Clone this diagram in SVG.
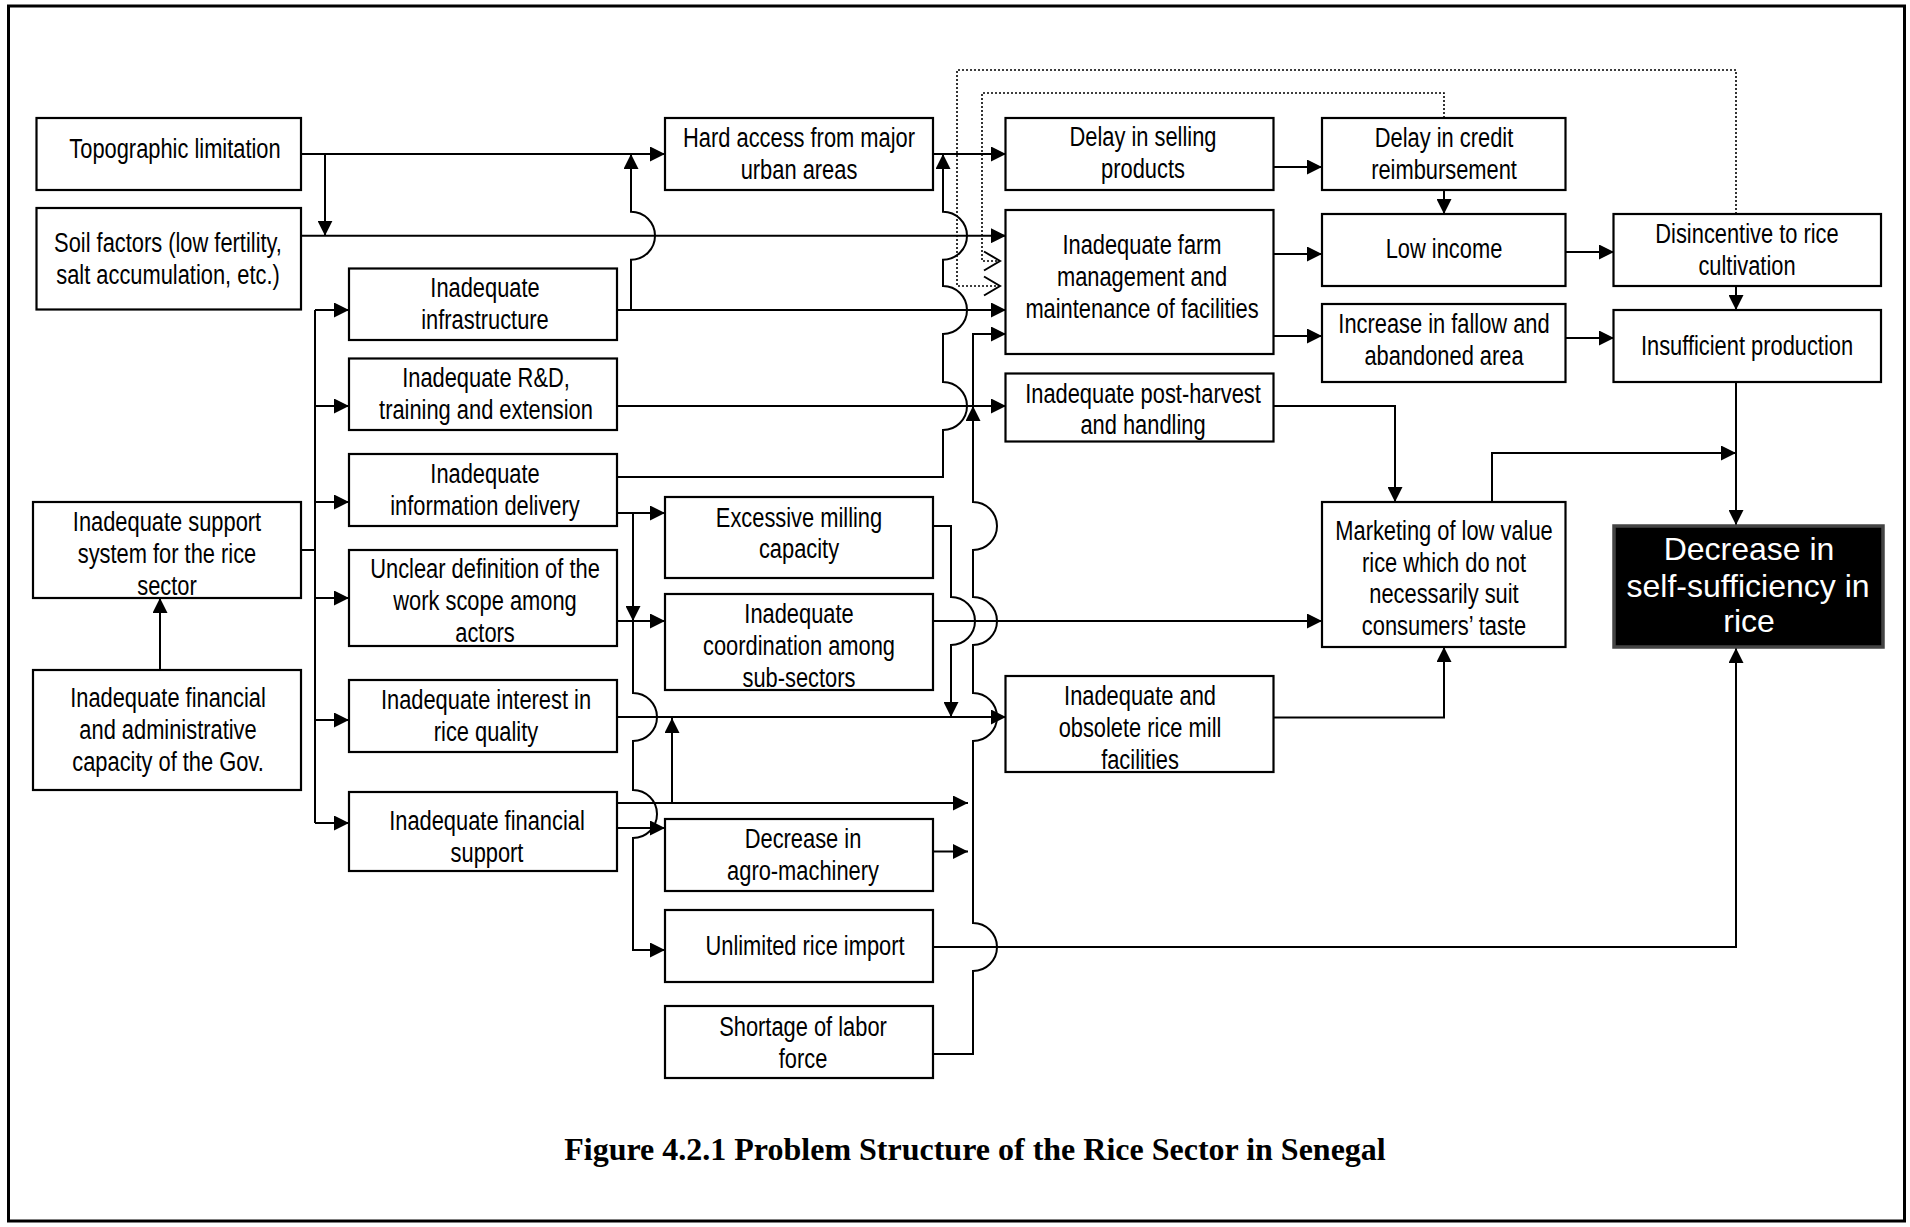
<svg xmlns="http://www.w3.org/2000/svg" width="1910" height="1227" viewBox="0 0 1910 1227">
<style>
.box{fill:#fff;stroke:#000;stroke-width:2.2}
.blk{fill:#000;stroke:#444;stroke-width:3.5}
.t{font-family:"Liberation Sans",Arial,sans-serif;font-size:27px;text-anchor:middle;fill:#000}
.w{font-family:"Liberation Sans",Arial,sans-serif;font-size:32px;text-anchor:middle;fill:#fff}
.cap{font-family:"Liberation Serif","Times New Roman",serif;font-size:32px;font-weight:bold;text-anchor:middle;fill:#000}
.c{fill:none;stroke:#000;stroke-width:2}
.a{marker-end:url(#ah)}
.d{fill:none;stroke:#000;stroke-width:1.6;stroke-dasharray:2 2;marker-end:url(#chev)}
</style>
<defs>
<marker id="ah" markerWidth="15" markerHeight="15" refX="15" refY="7.5" orient="auto" markerUnits="userSpaceOnUse"><path d="M0,0 L15,7.5 L0,15 z" fill="#000"/></marker>
<marker id="chev" markerWidth="20" markerHeight="22" refX="18" refY="11" orient="auto" markerUnits="userSpaceOnUse"><path d="M2,1.5 L18,11 L2,20.5" fill="none" stroke="#000" stroke-width="2"/></marker>
</defs>
<rect x="8.5" y="6" width="1896" height="1215" fill="#fff" stroke="#000" stroke-width="3"/>

<g id="connectors">
<path class="c a" d="M301,154 L665,154"/>
<path class="c a" d="M325,154 L325,235.7"/>
<path class="c a" d="M301,235.7 L1006,235.7"/>
<path class="c a" d="M617,310 L1006,310"/>
<path class="c a" d="M631,310 L631,259.7 A24,24 0 0 0 631,211.7 L631,154"/>
<path class="c a" d="M933,154 L1006,154"/>
<path class="c a" d="M617,406 L1006,406"/>
<path class="c a" d="M617,477 L943,477 L943,430 A24,24 0 0 0 943,382 L943,334 A24,24 0 0 0 943,286 L943,259.7 A24,24 0 0 0 943,211.7 L943,154"/>
<path class="c a" d="M933,1054 L973,1054 L973,971 A24,24 0 0 0 973,923 L973,741 A24,24 0 0 0 973,693 L973,645 A24,24 0 0 0 973,597 L973,550 A24,24 0 0 0 973,502 L973,406"/>
<path class="c a" d="M973,406 L973,334 L1006,334"/>
<path class="c a" d="M933,526 L951,526 L951,597 A24,24 0 0 1 951,645 L951,717"/>
<path class="c a" d="M617,513 L665,513"/>
<path class="c a" d="M633,513 L633,621"/>
<path class="c a" d="M633,621 L633,693 A24,24 0 0 1 633,741 L633,790 A24,24 0 0 1 633,838 L633,950 L665,950"/>
<path class="c a" d="M617,621 L665,621"/>
<path class="c a" d="M617,717 L1006,717"/>
<path class="c a" d="M617,803 L968,803"/>
<path class="c a" d="M672,803 L672,718"/>
<path class="c a" d="M617,828 L665,828"/>
<path class="c a" d="M933,851.5 L968,851.5"/>
<path class="c a" d="M933,621 L1322,621"/>
<path class="c" d="M301,550 L315,550 M315,310 L315,823"/>
<path class="c a" d="M315,310 L349,310"/>
<path class="c a" d="M315,406 L349,406"/>
<path class="c a" d="M315,502 L349,502"/>
<path class="c a" d="M315,598 L349,598"/>
<path class="c a" d="M315,720 L349,720"/>
<path class="c a" d="M315,823 L349,823"/>
<path class="c a" d="M160,670 L160,598"/>
<path class="c a" d="M1274,167 L1322,167"/>
<path class="c a" d="M1444,190 L1444,214"/>
<path class="c a" d="M1274,254 L1322,254"/>
<path class="c a" d="M1274,336 L1322,336"/>
<path class="c a" d="M1566,252 L1614,252"/>
<path class="c a" d="M1566,338 L1614,338"/>
<path class="c a" d="M1736,286 L1736,310"/>
<path class="c a" d="M1736,382 L1736,525"/>
<path class="c a" d="M1492,502 L1492,453 L1736,453"/>
<path class="c a" d="M1274,406 L1395,406 L1395,502"/>
<path class="c a" d="M1274,717.5 L1444,717.5 L1444,647"/>
<path class="c a" d="M933,947 L1736,947 L1736,648"/>
<path class="d" d="M1736,214 L1736,70 L957,70 L957,286 L1000,286"/>
<path class="d" d="M1444,118 L1444,93 L982,93 L982,261 L1000,261"/>
</g>

<g id="n-topo"><rect class="box" x="36.5" y="118" width="264.5" height="72"/><g transform="translate(175,0) scale(0.81,1)"><text class="t" x="0" y="158">Topographic limitation</text></g></g>
<g id="n-soil"><rect class="box" x="36.5" y="208" width="264.5" height="101.5"/><g transform="translate(168,0) scale(0.81,1)"><text class="t" x="0" y="252">Soil factors (low fertility,</text><text class="t" x="0" y="284">salt accumulation, etc.)</text></g></g>
<g id="n-infra"><rect class="box" x="349" y="268.5" width="268" height="71.5"/><g transform="translate(485,0) scale(0.81,1)"><text class="t" x="0" y="297">Inadequate</text><text class="t" x="0" y="329">infrastructure</text></g></g>
<g id="n-rd"><rect class="box" x="349" y="358.5" width="268" height="71.5"/><g transform="translate(486,0) scale(0.81,1)"><text class="t" x="0" y="387">Inadequate R&amp;D,</text><text class="t" x="0" y="419">training and extension</text></g></g>
<g id="n-info"><rect class="box" x="349" y="454" width="268" height="72"/><g transform="translate(485,0) scale(0.81,1)"><text class="t" x="0" y="483">Inadequate</text><text class="t" x="0" y="515">information delivery</text></g></g>
<g id="n-unclear"><rect class="box" x="349" y="550" width="268" height="96"/><g transform="translate(485,0) scale(0.81,1)"><text class="t" x="0" y="578">Unclear definition of the</text><text class="t" x="0" y="610">work scope among</text><text class="t" x="0" y="642">actors</text></g></g>
<g id="n-interest"><rect class="box" x="349" y="680" width="268" height="72"/><g transform="translate(486,0) scale(0.81,1)"><text class="t" x="0" y="709">Inadequate interest in</text><text class="t" x="0" y="741">rice quality</text></g></g>
<g id="n-finsup"><rect class="box" x="349" y="792" width="268" height="79"/><g transform="translate(487,0) scale(0.81,1)"><text class="t" x="0" y="830">Inadequate financial</text><text class="t" x="0" y="862">support</text></g></g>
<g id="n-support"><rect class="box" x="33" y="502" width="268" height="96"/><g transform="translate(167,0) scale(0.81,1)"><text class="t" x="0" y="531">Inadequate support</text><text class="t" x="0" y="563">system for the rice</text><text class="t" x="0" y="595">sector</text></g></g>
<g id="n-gov"><rect class="box" x="33" y="670" width="268" height="120"/><g transform="translate(168,0) scale(0.81,1)"><text class="t" x="0" y="707">Inadequate financial</text><text class="t" x="0" y="739">and administrative</text><text class="t" x="0" y="771">capacity of the Gov.</text></g></g>
<g id="n-hard"><rect class="box" x="665" y="118" width="268" height="72"/><g transform="translate(799,0) scale(0.81,1)"><text class="t" x="0" y="147">Hard access from major</text><text class="t" x="0" y="179">urban areas</text></g></g>
<g id="n-milling"><rect class="box" x="665" y="497" width="268" height="81"/><g transform="translate(799,0) scale(0.81,1)"><text class="t" x="0" y="527">Excessive milling</text><text class="t" x="0" y="558">capacity</text></g></g>
<g id="n-coord"><rect class="box" x="665" y="594" width="268" height="96"/><g transform="translate(799,0) scale(0.81,1)"><text class="t" x="0" y="623">Inadequate</text><text class="t" x="0" y="655">coordination among</text><text class="t" x="0" y="687">sub-sectors</text></g></g>
<g id="n-agro"><rect class="box" x="665" y="819" width="268" height="72"/><g transform="translate(803,0) scale(0.81,1)"><text class="t" x="0" y="848">Decrease in</text><text class="t" x="0" y="880">agro-machinery</text></g></g>
<g id="n-import"><rect class="box" x="665" y="910" width="268" height="72"/><g transform="translate(805,0) scale(0.81,1)"><text class="t" x="0" y="955">Unlimited rice import</text></g></g>
<g id="n-labor"><rect class="box" x="665" y="1006" width="268" height="72"/><g transform="translate(803,0) scale(0.81,1)"><text class="t" x="0" y="1036">Shortage of labor</text><text class="t" x="0" y="1068">force</text></g></g>
<g id="n-selling"><rect class="box" x="1005.5" y="118" width="268" height="72"/><g transform="translate(1143,0) scale(0.81,1)"><text class="t" x="0" y="146">Delay in selling</text><text class="t" x="0" y="178">products</text></g></g>
<g id="n-farm"><rect class="box" x="1005.5" y="210" width="268" height="144"/><g transform="translate(1142,0) scale(0.81,1)"><text class="t" x="0" y="254">Inadequate farm</text><text class="t" x="0" y="286">management and</text><text class="t" x="0" y="318">maintenance of facilities</text></g></g>
<g id="n-postharvest"><rect class="box" x="1005.5" y="373.5" width="268" height="68"/><g transform="translate(1143,0) scale(0.81,1)"><text class="t" x="0" y="403">Inadequate post-harvest</text><text class="t" x="0" y="434">and handling</text></g></g>
<g id="n-ricemill"><rect class="box" x="1005.5" y="676" width="268" height="96"/><g transform="translate(1140,0) scale(0.81,1)"><text class="t" x="0" y="705">Inadequate and</text><text class="t" x="0" y="737">obsolete rice mill</text><text class="t" x="0" y="769">facilities</text></g></g>
<g id="n-credit"><rect class="box" x="1322" y="118" width="243.5" height="72"/><g transform="translate(1444,0) scale(0.81,1)"><text class="t" x="0" y="147">Delay in credit</text><text class="t" x="0" y="179">reimbursement</text></g></g>
<g id="n-income"><rect class="box" x="1322" y="214" width="243.5" height="72"/><g transform="translate(1444,0) scale(0.81,1)"><text class="t" x="0" y="258">Low income</text></g></g>
<g id="n-fallow"><rect class="box" x="1322" y="304" width="243.5" height="78"/><g transform="translate(1444,0) scale(0.81,1)"><text class="t" x="0" y="333">Increase in fallow and</text><text class="t" x="0" y="365">abandoned area</text></g></g>
<g id="n-marketing"><rect class="box" x="1322" y="502" width="243.5" height="145"/><g transform="translate(1444,0) scale(0.81,1)"><text class="t" x="0" y="540">Marketing of low value</text><text class="t" x="0" y="572">rice which do not</text><text class="t" x="0" y="603">necessarily suit</text><text class="t" x="0" y="635">consumers’ taste</text></g></g>
<g id="n-disincentive"><rect class="box" x="1613.5" y="214" width="267.5" height="72"/><g transform="translate(1747,0) scale(0.81,1)"><text class="t" x="0" y="243">Disincentive to rice</text><text class="t" x="0" y="275">cultivation</text></g></g>
<g id="n-insufficient"><rect class="box" x="1613.5" y="310" width="267.5" height="72"/><g transform="translate(1747,0) scale(0.81,1)"><text class="t" x="0" y="355">Insufficient production</text></g></g>
<g id="n-selfsuff"><rect class="blk" x="1614" y="526" width="269" height="121"/><text class="w" x="1749" y="560">Decrease in</text><text class="w" x="1748" y="597">self-sufficiency in</text><text class="w" x="1749" y="632">rice</text></g>

<text class="cap" x="975" y="1160">Figure 4.2.1 Problem Structure of the Rice Sector in Senegal</text>
</svg>
